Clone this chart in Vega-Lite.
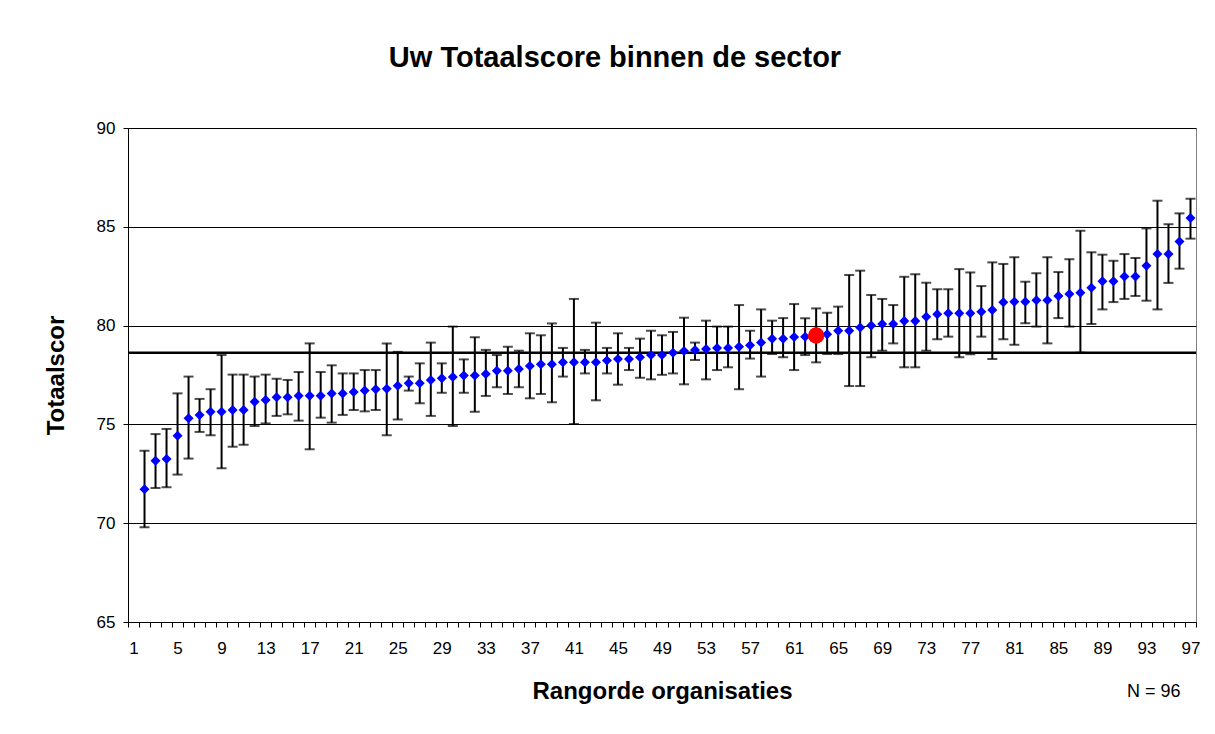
{
  "$schema": "https://vega.github.io/schema/vega-lite/v6.json",
  "width": 1068,
  "height": 494,
  "autosize": {"type": "none"},
  "padding": {"left": 128, "top": 128, "right": 19, "bottom": 112},
  "background": "white",
  "title": {"text": "Uw Totaalscore binnen de sector", "fontSize": 29, "fontWeight": "bold", "font": "Liberation Sans", "color": "black", "anchor": "middle", "frame": "group", "dx": -47, "offset": 46},
  "data": {"values": [
    {"rang": 2, "score": 71.72, "laag": 69.79, "hoog": 73.67, "eigen": "nee"},
    {"rang": 3, "score": 73.16, "laag": 71.78, "hoog": 74.51, "eigen": "nee"},
    {"rang": 4, "score": 73.25, "laag": 71.82, "hoog": 74.77, "eigen": "nee"},
    {"rang": 5, "score": 74.43, "laag": 72.46, "hoog": 76.57, "eigen": "nee"},
    {"rang": 6, "score": 75.31, "laag": 73.27, "hoog": 77.42, "eigen": "nee"},
    {"rang": 7, "score": 75.48, "laag": 74.62, "hoog": 76.29, "eigen": "nee"},
    {"rang": 8, "score": 75.64, "laag": 74.45, "hoog": 76.78, "eigen": "nee"},
    {"rang": 9, "score": 75.64, "laag": 72.78, "hoog": 78.51, "eigen": "nee"},
    {"rang": 10, "score": 75.73, "laag": 73.87, "hoog": 77.52, "eigen": "nee"},
    {"rang": 11, "score": 75.73, "laag": 73.97, "hoog": 77.52, "eigen": "nee"},
    {"rang": 12, "score": 76.15, "laag": 74.92, "hoog": 77.42, "eigen": "nee"},
    {"rang": 13, "score": 76.23, "laag": 75.05, "hoog": 77.52, "eigen": "nee"},
    {"rang": 14, "score": 76.37, "laag": 75.43, "hoog": 77.31, "eigen": "nee"},
    {"rang": 15, "score": 76.37, "laag": 75.51, "hoog": 77.25, "eigen": "nee"},
    {"rang": 16, "score": 76.45, "laag": 75.19, "hoog": 77.65, "eigen": "nee"},
    {"rang": 17, "score": 76.45, "laag": 73.74, "hoog": 79.1, "eigen": "nee"},
    {"rang": 18, "score": 76.45, "laag": 75.34, "hoog": 77.65, "eigen": "nee"},
    {"rang": 19, "score": 76.57, "laag": 75.09, "hoog": 77.99, "eigen": "nee"},
    {"rang": 20, "score": 76.57, "laag": 75.48, "hoog": 77.58, "eigen": "nee"},
    {"rang": 21, "score": 76.64, "laag": 75.73, "hoog": 77.58, "eigen": "nee"},
    {"rang": 22, "score": 76.71, "laag": 75.66, "hoog": 77.75, "eigen": "nee"},
    {"rang": 23, "score": 76.78, "laag": 75.73, "hoog": 77.75, "eigen": "nee"},
    {"rang": 24, "score": 76.8, "laag": 74.45, "hoog": 79.1, "eigen": "nee"},
    {"rang": 25, "score": 76.96, "laag": 75.25, "hoog": 78.67, "eigen": "nee"},
    {"rang": 26, "score": 77.08, "laag": 76.71, "hoog": 77.42, "eigen": "nee"},
    {"rang": 27, "score": 77.08, "laag": 76.07, "hoog": 78.09, "eigen": "nee"},
    {"rang": 28, "score": 77.25, "laag": 75.43, "hoog": 79.14, "eigen": "nee"},
    {"rang": 29, "score": 77.33, "laag": 76.6, "hoog": 78.09, "eigen": "nee"},
    {"rang": 30, "score": 77.4, "laag": 74.92, "hoog": 79.95, "eigen": "nee"},
    {"rang": 31, "score": 77.47, "laag": 76.6, "hoog": 78.29, "eigen": "nee"},
    {"rang": 32, "score": 77.47, "laag": 75.64, "hoog": 79.41, "eigen": "nee"},
    {"rang": 33, "score": 77.55, "laag": 76.44, "hoog": 78.77, "eigen": "nee"},
    {"rang": 34, "score": 77.72, "laag": 76.88, "hoog": 78.51, "eigen": "nee"},
    {"rang": 35, "score": 77.72, "laag": 76.54, "hoog": 78.93, "eigen": "nee"},
    {"rang": 36, "score": 77.8, "laag": 76.88, "hoog": 78.73, "eigen": "nee"},
    {"rang": 37, "score": 77.96, "laag": 76.32, "hoog": 79.61, "eigen": "nee"},
    {"rang": 38, "score": 78.04, "laag": 76.54, "hoog": 79.51, "eigen": "nee"},
    {"rang": 39, "score": 78.04, "laag": 76.12, "hoog": 80.11, "eigen": "nee"},
    {"rang": 40, "score": 78.14, "laag": 77.42, "hoog": 78.87, "eigen": "nee"},
    {"rang": 41, "score": 78.14, "laag": 75.02, "hoog": 81.35, "eigen": "nee"},
    {"rang": 42, "score": 78.14, "laag": 77.58, "hoog": 78.77, "eigen": "nee"},
    {"rang": 43, "score": 78.14, "laag": 76.22, "hoog": 80.15, "eigen": "nee"},
    {"rang": 44, "score": 78.23, "laag": 77.58, "hoog": 78.87, "eigen": "nee"},
    {"rang": 45, "score": 78.31, "laag": 77.01, "hoog": 79.61, "eigen": "nee"},
    {"rang": 46, "score": 78.31, "laag": 77.75, "hoog": 78.87, "eigen": "nee"},
    {"rang": 47, "score": 78.4, "laag": 77.36, "hoog": 79.34, "eigen": "nee"},
    {"rang": 48, "score": 78.51, "laag": 77.28, "hoog": 79.74, "eigen": "nee"},
    {"rang": 49, "score": 78.51, "laag": 77.51, "hoog": 79.51, "eigen": "nee"},
    {"rang": 50, "score": 78.62, "laag": 77.58, "hoog": 79.68, "eigen": "nee"},
    {"rang": 51, "score": 78.71, "laag": 77.03, "hoog": 80.4, "eigen": "nee"},
    {"rang": 52, "score": 78.77, "laag": 78.26, "hoog": 79.14, "eigen": "nee"},
    {"rang": 53, "score": 78.82, "laag": 77.28, "hoog": 80.25, "eigen": "nee"},
    {"rang": 54, "score": 78.87, "laag": 77.75, "hoog": 79.95, "eigen": "nee"},
    {"rang": 55, "score": 78.87, "laag": 77.89, "hoog": 79.95, "eigen": "nee"},
    {"rang": 56, "score": 78.93, "laag": 76.78, "hoog": 81.04, "eigen": "nee"},
    {"rang": 57, "score": 79.0, "laag": 78.33, "hoog": 79.74, "eigen": "nee"},
    {"rang": 58, "score": 79.14, "laag": 77.42, "hoog": 80.82, "eigen": "nee"},
    {"rang": 59, "score": 79.34, "laag": 78.56, "hoog": 80.25, "eigen": "nee"},
    {"rang": 60, "score": 79.34, "laag": 78.4, "hoog": 80.38, "eigen": "nee"},
    {"rang": 61, "score": 79.42, "laag": 77.75, "hoog": 81.09, "eigen": "nee"},
    {"rang": 62, "score": 79.43, "laag": 78.51, "hoog": 80.37, "eigen": "nee"},
    {"rang": 63, "score": 79.5, "laag": 78.14, "hoog": 80.87, "eigen": "ja"},
    {"rang": 64, "score": 79.56, "laag": 78.56, "hoog": 80.65, "eigen": "nee"},
    {"rang": 65, "score": 79.74, "laag": 78.56, "hoog": 80.96, "eigen": "nee"},
    {"rang": 66, "score": 79.74, "laag": 76.94, "hoog": 82.56, "eigen": "nee"},
    {"rang": 67, "score": 79.91, "laag": 76.94, "hoog": 82.78, "eigen": "nee"},
    {"rang": 68, "score": 80.0, "laag": 78.4, "hoog": 81.55, "eigen": "nee"},
    {"rang": 69, "score": 80.08, "laag": 78.73, "hoog": 81.35, "eigen": "nee"},
    {"rang": 70, "score": 80.08, "laag": 79.1, "hoog": 81.04, "eigen": "nee"},
    {"rang": 71, "score": 80.23, "laag": 77.89, "hoog": 82.47, "eigen": "nee"},
    {"rang": 72, "score": 80.23, "laag": 77.89, "hoog": 82.6, "eigen": "nee"},
    {"rang": 73, "score": 80.45, "laag": 78.73, "hoog": 82.17, "eigen": "nee"},
    {"rang": 74, "score": 80.57, "laag": 79.31, "hoog": 81.84, "eigen": "nee"},
    {"rang": 75, "score": 80.62, "laag": 79.44, "hoog": 81.84, "eigen": "nee"},
    {"rang": 76, "score": 80.62, "laag": 78.4, "hoog": 82.86, "eigen": "nee"},
    {"rang": 77, "score": 80.62, "laag": 78.55, "hoog": 82.69, "eigen": "nee"},
    {"rang": 78, "score": 80.7, "laag": 79.44, "hoog": 82.0, "eigen": "nee"},
    {"rang": 79, "score": 80.79, "laag": 78.31, "hoog": 83.2, "eigen": "nee"},
    {"rang": 80, "score": 81.18, "laag": 79.31, "hoog": 83.12, "eigen": "nee"},
    {"rang": 81, "score": 81.21, "laag": 79.03, "hoog": 83.46, "eigen": "nee"},
    {"rang": 82, "score": 81.21, "laag": 80.12, "hoog": 82.22, "eigen": "nee"},
    {"rang": 83, "score": 81.28, "laag": 79.95, "hoog": 82.65, "eigen": "nee"},
    {"rang": 84, "score": 81.28, "laag": 79.1, "hoog": 83.46, "eigen": "nee"},
    {"rang": 85, "score": 81.5, "laag": 80.38, "hoog": 82.71, "eigen": "nee"},
    {"rang": 86, "score": 81.6, "laag": 79.95, "hoog": 83.36, "eigen": "nee"},
    {"rang": 87, "score": 81.66, "laag": 78.63, "hoog": 84.8, "eigen": "nee"},
    {"rang": 88, "score": 81.92, "laag": 80.08, "hoog": 83.71, "eigen": "nee"},
    {"rang": 89, "score": 82.24, "laag": 80.82, "hoog": 83.59, "eigen": "nee"},
    {"rang": 90, "score": 82.24, "laag": 81.19, "hoog": 83.28, "eigen": "nee"},
    {"rang": 91, "score": 82.48, "laag": 81.35, "hoog": 83.62, "eigen": "nee"},
    {"rang": 92, "score": 82.48, "laag": 81.5, "hoog": 83.42, "eigen": "nee"},
    {"rang": 93, "score": 83.03, "laag": 81.26, "hoog": 84.92, "eigen": "nee"},
    {"rang": 94, "score": 83.62, "laag": 80.82, "hoog": 86.32, "eigen": "nee"},
    {"rang": 95, "score": 83.62, "laag": 82.16, "hoog": 85.13, "eigen": "nee"},
    {"rang": 96, "score": 84.25, "laag": 82.88, "hoog": 85.68, "eigen": "nee"},
    {"rang": 97, "score": 85.45, "laag": 84.4, "hoog": 86.42, "eigen": "nee"}
  ]},
  "layer": [
    {
      "mark": {"type": "errorbar", "ticks": {"size": 10, "thickness": 2, "color": "black"}, "rule": {"strokeWidth": 2, "color": "black"}},
      "encoding": {
        "x": {"field": "rang", "type": "quantitative", "scale": {"domain": [0.5, 97.5], "nice": false, "zero": false},
          "axis": {"orient": "bottom", "values": [1, 5, 9, 13, 17, 21, 25, 29, 33, 37, 41, 45, 49, 53, 57, 61, 65, 69, 73, 77, 81, 85, 89, 93, 97], "ticks": false, "grid": false, "labelFontSize": 17, "labelPadding": 18, "labelFlush": false, "labelOverlap": false, "title": "Rangorde organisaties", "titleFontSize": 24, "titleFontWeight": "bold", "titleBaseline": "middle", "titleY": 69}},
        "y": {"field": "laag", "type": "quantitative", "scale": {"domain": [65, 90], "nice": false, "zero": false}, "title": "Totaalscor",
          "axis": {"values": [65, 70, 75, 80, 85, 90], "grid": true, "gridColor": "black", "gridWidth": 1, "gridOpacity": 1, "tickSize": 5, "labelFontSize": 17, "labelPadding": 8, "titleFontSize": 24, "titleFontWeight": "bold", "titlePadding": 28}},
        "y2": {"field": "hoog"}
      }
    },
    {
      "data": {"values": [{"gemiddelde": 78.62}]},
      "mark": {"type": "rule", "color": "black", "strokeWidth": 2.5},
      "encoding": {
        "y": {"field": "gemiddelde", "type": "quantitative", "scale": {"domain": [65, 90], "nice": false, "zero": false}, "title": "Totaalscor"}
      }
    },
    {
      "mark": {"type": "point", "filled": true, "opacity": 1, "strokeWidth": 0},
      "encoding": {
        "x": {"field": "rang", "type": "quantitative", "scale": {"domain": [0.5, 97.5], "nice": false, "zero": false},
          "axis": {"orient": "bottom", "values": [0.5, 1.5, 2.5, 3.5, 4.5, 5.5, 6.5, 7.5, 8.5, 9.5, 10.5, 11.5, 12.5, 13.5, 14.5, 15.5, 16.5, 17.5, 18.5, 19.5, 20.5, 21.5, 22.5, 23.5, 24.5, 25.5, 26.5, 27.5, 28.5, 29.5, 30.5, 31.5, 32.5, 33.5, 34.5, 35.5, 36.5, 37.5, 38.5, 39.5, 40.5, 41.5, 42.5, 43.5, 44.5, 45.5, 46.5, 47.5, 48.5, 49.5, 50.5, 51.5, 52.5, 53.5, 54.5, 55.5, 56.5, 57.5, 58.5, 59.5, 60.5, 61.5, 62.5, 63.5, 64.5, 65.5, 66.5, 67.5, 68.5, 69.5, 70.5, 71.5, 72.5, 73.5, 74.5, 75.5, 76.5, 77.5, 78.5, 79.5, 80.5, 81.5, 82.5, 83.5, 84.5, 85.5, 86.5, 87.5, 88.5, 89.5, 90.5, 91.5, 92.5, 93.5, 94.5, 95.5, 96.5, 97.5], "labels": false, "ticks": true, "tickSize": 5, "grid": false, "title": "N = 96", "titleFontSize": 18, "titleFontWeight": "normal", "titleAlign": "right", "titleX": 1052, "titleY": 69, "titleBaseline": "middle"}},
        "y": {"field": "score", "type": "quantitative", "scale": {"domain": [65, 90], "nice": false, "zero": false}, "title": "Totaalscor"},
        "color": {"field": "eigen", "type": "nominal", "scale": {"domain": ["nee", "ja"], "range": ["#0000FF", "#FF0000"]}, "legend": null},
        "shape": {"field": "eigen", "type": "nominal", "scale": {"domain": ["nee", "ja"], "range": ["diamond", "circle"]}, "legend": null},
        "size": {"field": "eigen", "type": "ordinal", "scale": {"domain": ["nee", "ja"], "range": [100, 270]}, "legend": null},
        "order": {"field": "eigen", "sort": "descending"}
      }
    }
  ],
  "resolve": {"axis": {"x": "independent"}},
  "config": {
    "font": "Liberation Sans",
    "view": {"stroke": "#808080", "strokeWidth": 1},
    "axis": {"domainColor": "black", "domainWidth": 1, "tickColor": "black", "labelColor": "black", "titleColor": "black", "labelFont": "Liberation Sans", "titleFont": "Liberation Sans"}
  }
}
